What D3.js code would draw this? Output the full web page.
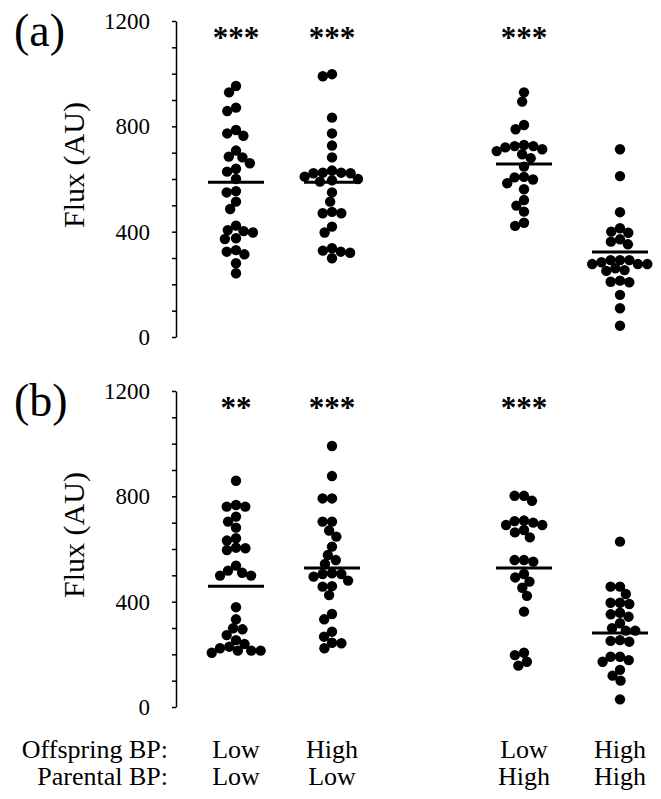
<!DOCTYPE html>
<html lang="en">
<head>
    <meta charset="UTF-8">
    <title>Flux by offspring and parental BP</title>
    <style>
        body {
            margin: 0;
            background: #fff;
        }
        .dot {
            fill: #000;
        }
        .mean {
            stroke: #000;
            stroke-width: 3px;
        }
    </style>
</head>
<body>
    <svg id="chart" width="661" height="799"></svg>

    <script src="https://d3js.org/d3.v7.min.js"></script>
    <script>
        // groups, left to right (blank slot = gap between the two pairs)
        const groups = ["LL", "HL", "LH", "HH"];
        const slots = ["LL", "HL", "", "LH", "HH"];
        const offspringBP = ["Low", "High", "Low", "High"];
        const parentalBP = ["Low", "Low", "High", "High"];
        const yTicks = [0, 100, 200, 300, 400, 500, 600, 700, 800, 900, 1000, 1100, 1200];
        const yLabels = [0, 400, 800, 1200];

        // panel (a) values
        const fluxA_LL = [953, 929, 871, 858, 786, 773, 764, 708, 682, 685, 660, 628, 639, 600, 549, 554, 514, 486, 423, 406, 402, 397, 372, 375, 330, 324, 314, 280, 242];
        const fluxA_HL = [998, 990, 833, 773, 727, 682, 609, 624, 624, 622, 622, 632, 600, 590, 595, 549, 514, 470, 475, 470, 419, 397, 328, 324, 337, 320, 299];
        const fluxA_LH = [929, 894, 805, 789, 706, 720, 725, 729, 725, 713, 694, 679, 647, 606, 598, 608, 584, 561, 499, 520, 476, 422, 434];
        const fluxA_HH = [713, 611, 474, 413, 396, 400, 362, 371, 352, 277, 292, 292, 277, 292, 284, 277, 251, 261, 254, 208, 214, 210, 160, 109, 43];
        const meansA = [588, 588, 657, 323];
        const starsA = ["***", "***", "***", ""];

        // panel (b)
        const fluxB_LL = [859, 761, 767, 761, 723, 704, 681, 641, 632, 603, 596, 605, 537, 499, 510, 518, 499, 379, 333, 295, 299, 273, 254, 214, 223, 229, 239, 206, 214, 214];
        const fluxB_HL = [991, 877, 792, 792, 704, 704, 670, 647, 609, 577, 558, 543, 505, 495, 505, 508, 480, 457, 459, 425, 353, 333, 286, 267, 244, 223, 242];
        const fluxB_LH = [802, 802, 783, 706, 691, 708, 700, 691, 672, 663, 644, 552, 558, 558, 505, 492, 476, 453, 422, 362, 197, 206, 172, 157];
        const fluxB_HH = [628, 457, 457, 429, 391, 396, 396, 352, 343, 358, 318, 299, 290, 290, 254, 248, 251, 191, 178, 172, 191, 141, 119, 100, 29];
        const meansB = [459, 528, 528, 281];
        const starsB = ["**", "***", "***", ""];

        const panels = [
            { tag: "(a)", top: 21, series: [fluxA_LL, fluxA_HL, fluxA_LH, fluxA_HH], means: meansA, stars: starsA },
            { tag: "(b)", top: 391, series: [fluxB_LL, fluxB_HL, fluxB_LH, fluxB_HH], means: meansB, stars: starsB }
        ];

        const serif = '"Liberation Serif", "Times New Roman", Times, "DejaVu Serif", serif';
        const svg = d3.select("#chart").attr("font-family", serif);
        const axisX = 176;
        const plotH = 316;
        const r = 5.2;
        const minDist = 9.4;

        const x = d3.scalePoint().domain(slots).range([236, 620]);

        // greedy beeswarm: each dot goes as close to the centre as it can
        function swarm(values, y) {
            const pts = values.map(v => ({ v: v, y: y(v) })).sort((a, b) => a.y - b.y);
            const placed = [];
            pts.forEach(p => {
                const near = placed.filter(q => Math.abs(q.y - p.y) < minDist);
                const cands = [0];
                near.forEach(q => {
                    const d = Math.sqrt(minDist * minDist - (q.y - p.y) ** 2);
                    cands.push(q.dx - d, q.dx + d);
                });
                cands.sort((a, b) => Math.abs(a) - Math.abs(b));
                p.dx = cands.find(c => near.every(q => (q.dx - c) ** 2 + (q.y - p.y) ** 2 >= minDist * minDist - 1e-6));
                placed.push(p);
            });
            return pts;
        }

        panels.forEach(panel => {
            const y = d3.scaleLinear().domain([0, 1200]).range([panel.top + plotH, panel.top]);
            const g = svg.append("g");

            const axis = g.append("g")
                .attr("transform", `translate(${axisX},0)`)
                .call(d3.axisLeft(y)
                    .tickValues(yTicks)
                    .tickSize(4)
                    .tickSizeOuter(0)
                    .tickPadding(22)
                    .tickFormat(d => yLabels.includes(d) ? d : ""));
            axis.attr("font-family", serif).attr("font-size", 23);
            axis.selectAll("path, line").attr("stroke", "#000").attr("stroke-width", 1.5);
            axis.selectAll("text").attr("fill", "#000");

            g.append("text")
                .attr("transform", `translate(84,${panel.top + 144}) rotate(-90)`)
                .attr("text-anchor", "middle")
                .attr("font-size", 30)
                .text("Flux (AU)");

            g.append("text")
                .attr("x", 14)
                .attr("y", panel.top + 25)
                .attr("font-size", 46)
                .text(panel.tag);

            groups.forEach((grp, i) => {
                const cx = x(grp);
                const pts = swarm(panel.series[i], y);

                g.append("g").selectAll("circle")
                    .data(pts)
                    .join("circle")
                    .attr("class", "dot")
                    .attr("cx", d => cx + d.dx)
                    .attr("cy", d => d.y)
                    .attr("r", r);

                g.append("line")
                    .attr("class", "mean")
                    .attr("x1", cx - 28)
                    .attr("x2", cx + 28)
                    .attr("y1", y(panel.means[i]))
                    .attr("y2", y(panel.means[i]));

                g.append("text")
                    .attr("x", cx)
                    .attr("y", panel.top + 27)
                    .attr("text-anchor", "middle")
                    .attr("font-size", 31)
                    .attr("font-weight", "bold")
                    .text(panel.stars[i]);
            });
        });

        // bottom category labels
        const rows = [
            { title: "Offspring BP:", labels: offspringBP, baseline: 758 },
            { title: "Parental BP:", labels: parentalBP, baseline: 785 }
        ];
        rows.forEach(row => {
            svg.append("text")
                .attr("x", 168)
                .attr("y", row.baseline)
                .attr("text-anchor", "end")
                .attr("font-size", 26)
                .text(row.title);
            groups.forEach((grp, i) => {
                svg.append("text")
                    .attr("x", x(grp))
                    .attr("y", row.baseline)
                    .attr("text-anchor", "middle")
                    .attr("font-size", 26)
                    .text(row.labels[i]);
            });
        });
    </script>
</body>
</html>
